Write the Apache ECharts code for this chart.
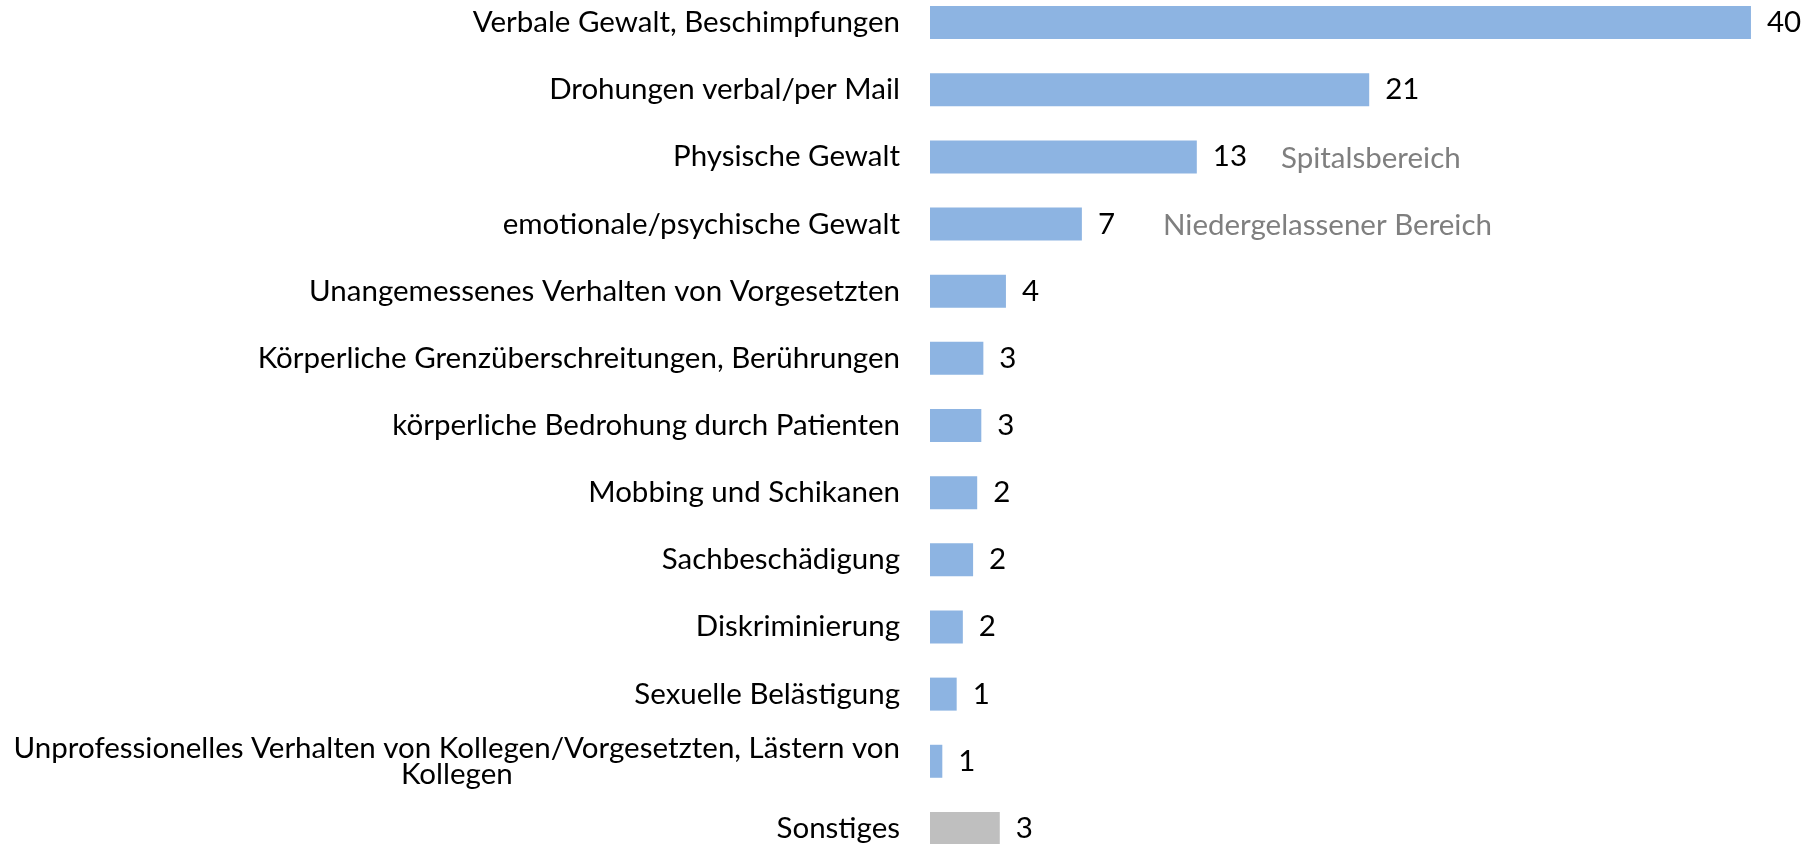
<!DOCTYPE html>
<html>
<head>
<meta charset="utf-8">
<script src="https://cdn.jsdelivr.net/npm/echarts@6/dist/echarts.min.js"></script>
<style>
  html, body { margin: 0; padding: 0; background: #fff; overflow: hidden; }
  #chart { width: 1809px; height: 873px; margin-top: -11px; }
</style>
</head>
<body>
<div id="chart"></div>
<script>
// categories, top to bottom
const categories = [
  "Verbale Gewalt, Beschimpfungen",
  "Drohungen verbal/per Mail",
  "Physische Gewalt",
  "emotionale/psychische Gewalt",
  "Unangemessenes Verhalten von Vorgesetzten",
  "Körperliche Grenzüberschreitungen, Berührungen",
  "körperliche Bedrohung durch Patienten",
  "Mobbing und Schikanen",
  "Sachbeschädigung",
  "Diskriminierung",
  "Sexuelle Belästigung",
  "Unprofessionelles Verhalten von Kollegen/Vorgesetzten, Lästern von\nKollegen",
  "Sonstiges"
];
// bar lengths (labels show the rounded numbers)
const values = [40.0, 21.4, 13.0, 7.4, 3.7, 2.6, 2.5, 2.3, 2.1, 1.6, 1.3, 0.6, 3.4];
const valueLabels = [40, 21, 13, 7, 4, 3, 3, 2, 2, 2, 1, 1, 3];
const legendNotes = ["Spitalsbereich", "Niedergelassener Bereich"];

const FONT = "Lato";
const SIZE = 29.5;
const blue = "#8db4e2";
const grey = "#bfbfbf";

const chart = echarts.init(document.getElementById("chart"));

const option = {
  animation: false,
  grid: { left: 930, right: 17, top: 0, bottom: 0, containLabel: false },
  xAxis: {
    type: "value",
    min: 0,
    max: 42,
    show: false
  },
  yAxis: {
    type: "category",
    inverse: true,
    data: categories,
    axisLine: { show: false },
    axisTick: { show: false },
    axisLabel: {
      margin: 30,
      formatter: (v) => v.split("\n").map((l) => "{c|" + l + "}").join("\n"),
      rich: {
        c: { align: "center", fontFamily: FONT, fontSize: SIZE, color: "#000", lineHeight: 26 }
      }
    }
  },
  series: [
    {
      type: "bar",
      barWidth: 33,
      data: values.map((v, i) => ({
        value: v,
        itemStyle: { color: i === values.length - 1 ? grey : blue }
      })),
      label: {
        show: true,
        position: "right",
        distance: 16,
        fontFamily: FONT,
        fontSize: SIZE,
        color: "#000",
        formatter: (p) => String(valueLabels[p.dataIndex])
      }
    }
  ],
  graphic: [
    {
      type: "text", left: 1281, top: 154,
      style: { text: legendNotes[0], fontFamily: FONT, fontSize: SIZE, fill: "#7f7f7f" }
    },
    {
      type: "text", left: 1163, top: 221,
      style: { text: legendNotes[1], fontFamily: FONT, fontSize: SIZE, fill: "#7f7f7f" }
    }
  ]
};

chart.setOption(option);
</script>
</body>
</html>
